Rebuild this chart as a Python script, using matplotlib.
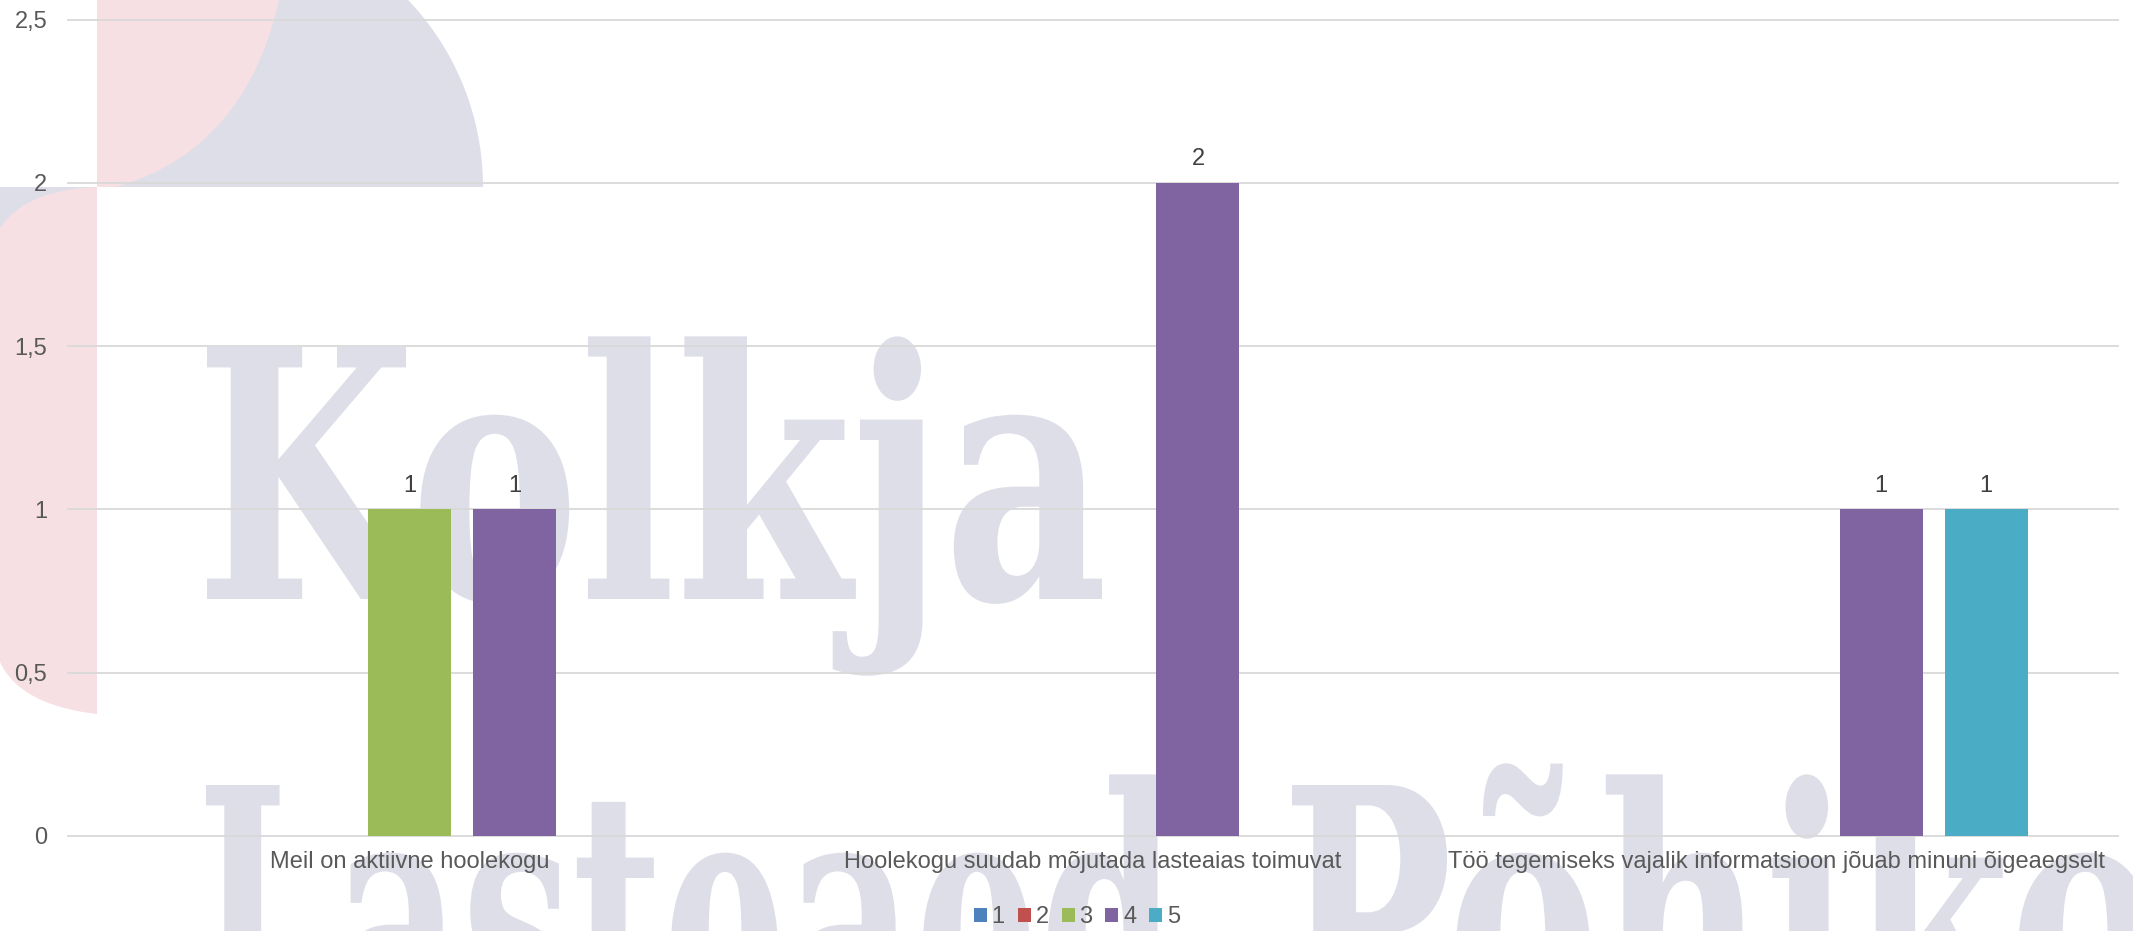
import numpy as np
import matplotlib
matplotlib.use("Agg")
import matplotlib.pyplot as plt
from matplotlib.textpath import TextPath
from matplotlib.font_manager import FontProperties
from matplotlib.patches import PathPatch, Polygon
from matplotlib.transforms import Affine2D, IdentityTransform

# data
categories = ["Meil on aktiivne hoolekogu",
              "Hoolekogu suudab mõjutada lasteaias toimuvat",
              "Töö tegemiseks vajalik informatsioon jõuab minuni õigeaegselt"]
series_names = ["1", "2", "3", "4", "5"]
answers_1 = [0, 0, 0]
answers_2 = [0, 0, 0]
answers_3 = [1, 0, 0]
answers_4 = [1, 2, 1]
answers_5 = [0, 0, 1]
all_answers = [answers_1, answers_2, answers_3, answers_4, answers_5]
colors = ["#4f81bd", "#c0504d", "#9bbb59", "#8064a2", "#4bacc6"]
y_ticks = [0, 0.5, 1, 1.5, 2, 2.5]

W, H = 2133, 931
FS = 17
plt.rcParams["font.family"] = ["Liberation Sans", "DejaVu Sans"]
fig = plt.figure(figsize=(W / 100, H / 100), dpi=100)
px = IdentityTransform()

PINK = "#f6e0e4"
LAV = "#dedee8"


def P(x, y):
    # image coords (y down) -> figure pixels (y up)
    return (x, H - y)


def bezier(p0, p1, p2, n=40):
    t = np.linspace(0, 1, n)
    return [P((1 - s) ** 2 * p0[0] + 2 * (1 - s) * s * p1[0] + s ** 2 * p2[0],
              (1 - s) ** 2 * p0[1] + 2 * (1 - s) * s * p1[1] + s ** 2 * p2[1]) for s in t]


def blob(points, color):
    fig.add_artist(Polygon(points, closed=True, facecolor=color, edgecolor="none",
                           transform=px, zorder=0))


# background logo pieces, top-left
cx, cy, R = 212, 187, 271
theta = np.linspace(0, np.pi / 2 + np.arcsin((cx - 97) / R), 100)
arc = [P(cx + R * np.cos(t), cy - R * np.sin(t)) for t in theta]
blob([P(97, 187)] + arc + [P(97, 187)], LAV)
blob([P(97, 0)] + bezier((279, 0), (245, 150), (116, 187)) + [P(97, 187)], PINK)
blob([P(0, 187), P(97, 187), P(97, 240), P(0, 240)], LAV)
blob(bezier((0, 228), (25, 190), (97, 187)) + bezier((97, 714), (20, 705), (0, 662)), PINK)

# watermark text
fp = FontProperties(family="DejaVu Serif", weight="bold")
cap = TextPath((0, 0), "K", size=100, prop=fp).get_extents().height
sy = 252 / cap


def watermark(text, fit_text, left, top, width):
    tp = TextPath((0, 0), text, size=100, prop=fp)
    w_fit = TextPath((0, 0), fit_text, size=100, prop=fp).get_extents().width
    sx = width / w_fit
    x0 = tp.get_extents().x0
    tr = Affine2D().translate(-x0, 0).scale(sx, sy).translate(left, H - top - 252)
    fig.add_artist(PathPatch(tr.transform_path(tp), facecolor=LAV, edgecolor="none",
                             transform=px, zorder=0))


watermark("Kolkja", "Kolkja", 207, 347, 895)
watermark("Lasteaed", "Lasteaed", 206, 785, 966)
watermark("Põhikool", "Põhik", 1292, 785, 721)

# chart
ax = fig.add_axes([68 / W, 95 / H, (2118 - 68) / W, (836 - 19.5) / H])
ax.set_facecolor("none")
x = np.arange(len(categories))
step = 0.1536
bw = 0.1214
for i, (name, vals) in enumerate(zip(series_names, all_answers)):
    bars = ax.bar(x + (i - 2) * step, vals, bw, color=colors[i], label=name, zorder=3)
    ax.bar_label(bars, labels=[str(v) if v else "" for v in vals], padding=9,
                 fontsize=FS, color="#404040")

ax.set_xlim(-0.5, 2.5)
ax.set_ylim(0, 2.5)
ax.set_yticks(y_ticks)
ax.set_yticklabels([f"{v:g}".replace(".", ",") for v in y_ticks])
ax.set_xticks(x)
ax.set_xticklabels(categories)
ax.tick_params(axis="both", length=0, labelsize=FS, labelcolor="#595959")
ax.tick_params(axis="y", pad=15)
ax.tick_params(axis="x", pad=11)
for s in ax.spines.values():
    s.set_visible(False)
ax.yaxis.grid(True, color="#d9d9d9", linewidth=1.3, zorder=1)
ax.set_axisbelow(True)
for gl in ax.get_ygridlines():
    gl.set_clip_on(False)

ax.legend(loc="center", bbox_to_anchor=(1077 / W, 1 - 917 / H),
          bbox_transform=fig.transFigure, ncol=5, frameon=False,
          handlelength=0.55, handleheight=0.55, handletextpad=0.2,
          columnspacing=0.55, fontsize=FS, labelcolor="#595959")

fig.savefig("out.png", dpi=100)
